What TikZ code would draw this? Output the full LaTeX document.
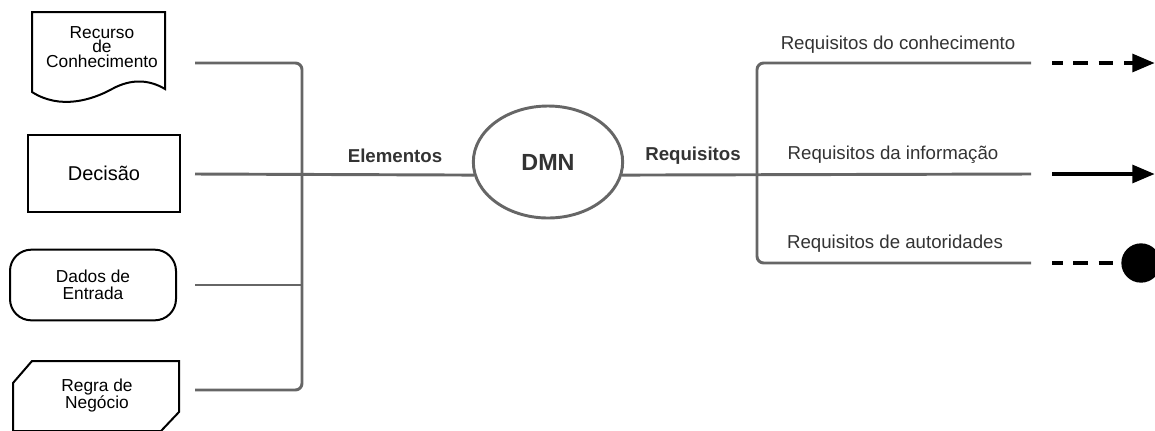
\documentclass[tikz,border=0pt]{standalone}
\usepackage{fontspec}
\setmainfont{Liberation Sans}
\usetikzlibrary{shapes.geometric,arrows.meta}
\definecolor{lgray}{HTML}{666666}
\definecolor{tgray}{HTML}{333333}
\tikzset{
  conn/.style={draw=lgray, line width=2.2pt},
  shp/.style={draw=black, line width=1.5pt},
  lbl/.style={text=tgray, font=\fontsize{14pt}{16pt}\selectfont, inner sep=0pt},
  blbl/.style={text=tgray, font=\fontsize{14pt}{16pt}\selectfont\bfseries, inner sep=0pt},
  btxt/.style={align=center, inner sep=0pt, font=\fontsize{13pt}{12.75pt}\selectfont},
  arr/.style={line width=3.6pt, black},
  dsh/.style={dash pattern=on 11pt off 8pt, dash phase=3pt},
  tip/.style={-{Triangle[length=17pt,width=13pt]}},
}
\begin{document}
\begin{tikzpicture}[x=0.75pt,y=-0.75pt]
\useasboundingbox (0,0) rectangle (1155,430);
% left shapes
\draw[shp] (32,92) .. controls (60,110) and (92,100) .. (112,89) .. controls (132,78) and (150,80) .. (165,89) -- (165,12) -- (32,12) -- cycle;
\node[btxt, font=\fontsize{13pt}{11pt}\selectfont] (rec) at (102,47) {Recurso\\de\\Conhecimento};
\node[shp, minimum width=114pt, minimum height=57.75pt, inner sep=0pt, font=\fontsize{15pt}{18pt}\selectfont] (dec) at (104,173.5) {Decisão};
\node[shp, rounded corners=16pt, minimum width=124.5pt, minimum height=53pt, inner sep=0pt] (dad) at (93,285) {};
\node[btxt] at (dad.center) {Dados de\\Entrada};
\draw[shp] (13,383) -- (32,361) -- (179,361) -- (179,412) -- (161,431) -- (13,431) -- cycle;
\node[btxt] (reg) at (97,396) {Regra de\\Negócio};
% centre
\node[draw=lgray, line width=2.2pt, ellipse, minimum width=112pt, minimum height=84pt, inner sep=0pt, text=tgray, font=\fontsize{17.5pt}{20pt}\selectfont\bfseries] (dmn) at (548,162) {DMN};
\coordinate (l1) at (195,63);
\coordinate (l2) at (195,174);
\coordinate (l3) at (195,285);
\coordinate (l4) at (195,390);
\coordinate (lv) at (302,174);
\draw[conn, rounded corners=5pt] (l1) -- (l1 -| lv) -- (l4 -| lv) -- (l4);
\draw[conn] (l3) -- (l3 -| lv);
\draw[conn] (l2) -- (dmn.190);
\node[blbl] at (395,156) {Elementos};
\node[blbl] at (693,156) {Requisitos};
% right
\coordinate (r1) at (1031,63);
\coordinate (r2) at (1031,174);
\coordinate (r3) at (1031,263);
\coordinate (rv) at (757,174);
\draw[conn, rounded corners=5pt] (r1) -- (r1 -| rv) -- (r3 -| rv) -- (r3);
\draw[conn] (dmn.350) -- (r2);
\node[lbl] at (898,45) {Requisitos do conhecimento};
\node[lbl] at (893,155) {Requisitos da informação};
\node[lbl] at (895,244) {Requisitos de autoridades};
% arrows
\coordinate (a1s) at (1052,63);
\coordinate (a1e) at (1155,63);
\coordinate (a2s) at (1052,174);
\coordinate (a2e) at (1155,174);
\coordinate (a3s) at (1052,263);
\node[circle, fill=black, minimum size=29.5pt, inner sep=0pt] (dot) at (1141,263) {};
\draw[arr, dsh, tip] (a1s) -- (a1e);
\draw[arr, tip] (a2s) -- (a2e);
\draw[arr, dsh] (a3s) -- (dot);
\end{tikzpicture}
\end{document}
